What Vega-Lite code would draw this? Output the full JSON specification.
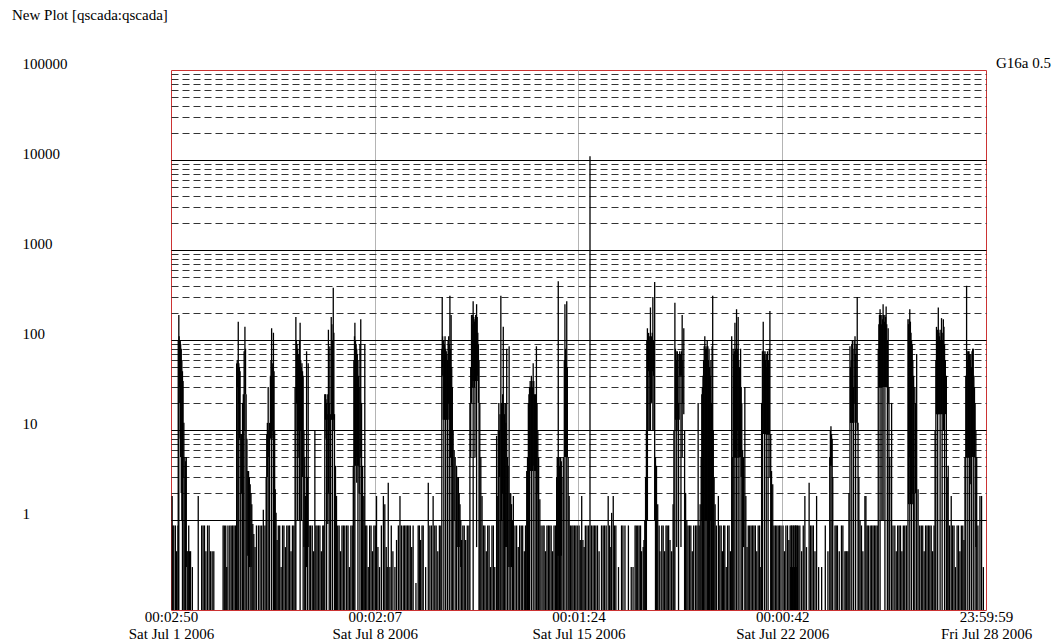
{
"$schema": "https://vega.github.io/schema/vega-lite/v6.json",
"width": 815,
"height": 540,
"autosize": "none",
"padding": {"left": 171, "top": 70, "right": 69, "bottom": 31},
"background": "white",
"title": {"text": "New Plot [qscada:qscada]", "anchor": "start", "frame": "group", "dx": -159, "offset": 33, "font": "Liberation Serif", "fontSize": 15, "fontWeight": "normal", "color": "#000000"},
"config": {"view": {"stroke": "#cc3333", "strokeWidth": 1}, "font": "Liberation Serif"},
"datasets": {
"lab": [{"t": "2006-07-28T23:59:59Z", "hi": 100000, "label": "G16a 0.5"}],
"s": [
{"t":"2006-07-01T01:00Z","hi":1.85},{"t":"2006-07-01T01:30Z","hi":0.87},{"t":"2006-07-01T02:20Z","hi":0.87},{"t":"2006-07-01T03:40Z","hi":0.87},{"t":"2006-07-01T04:40Z","hi":0.45},{"t":"2006-07-01T05:50Z","hi":0.87},
{"t":"2006-07-01T06:00Z","hi":100},{"t":"2006-07-01T06:30Z","hi":190},{"t":"2006-07-01T06:45Z","lo":40,"hi":110},{"t":"2006-07-01T07:00Z","lo":30,"hi":100},{"t":"2006-07-01T07:20Z","lo":20,"hi":95},{"t":"2006-07-01T07:40Z","lo":8,"hi":100},{"t":"2006-07-01T08:00Z","lo":5,"hi":90},{"t":"2006-07-01T08:30Z","lo":2,"hi":80},{"t":"2006-07-01T09:00Z","lo":1,"hi":60},{"t":"2006-07-01T09:30Z","hi":45},{"t":"2006-07-01T10:00Z","lo":3,"hi":35},{"t":"2006-07-01T10:40Z","hi":12},{"t":"2006-07-01T11:30Z","hi":5},{"t":"2006-07-01T12:00Z","hi":4.5},{"t":"2006-07-01T12:40Z","lo":0.3,"hi":5},
{"t":"2006-07-01T13:20Z","hi":0.45},{"t":"2006-07-01T14:00Z","hi":0.45},{"t":"2006-07-01T14:40Z","hi":0.87},{"t":"2006-07-01T15:20Z","hi":0.45},{"t":"2006-07-01T16:10Z","hi":0.45},{"t":"2006-07-01T17:40Z","hi":0.3},{"t":"2006-07-01T22:30Z","hi":1.85},
{"t":"2006-07-02T01:20Z","hi":0.87},{"t":"2006-07-02T02:30Z","hi":0.87},{"t":"2006-07-02T03:40Z","hi":0.87},{"t":"2006-07-02T04:50Z","hi":0.45},{"t":"2006-07-02T06:10Z","hi":0.87},{"t":"2006-07-02T07:30Z","hi":0.87},{"t":"2006-07-02T08:40Z","hi":0.45},{"t":"2006-07-02T10:00Z","hi":0.45},{"t":"2006-07-02T11:20Z","hi":0.45},{"t":"2006-07-02T19:00Z","hi":0.87},{"t":"2006-07-02T20:00Z","hi":0.87},{"t":"2006-07-02T21:10Z","hi":0.87},{"t":"2006-07-02T22:00Z","hi":0.3},{"t":"2006-07-02T23:00Z","hi":0.87},
{"t":"2006-07-03T00:30Z","hi":0.87},{"t":"2006-07-03T01:40Z","hi":0.87},{"t":"2006-07-03T02:50Z","hi":0.87},{"t":"2006-07-03T04:00Z","hi":0.87},{"t":"2006-07-03T05:10Z","hi":0.87},
{"t":"2006-07-03T06:10Z","hi":55},{"t":"2006-07-03T06:40Z","lo":30,"hi":60},{"t":"2006-07-03T07:10Z","hi":50},{"t":"2006-07-03T07:30Z","hi":160},{"t":"2006-07-03T08:00Z","lo":20,"hi":55},{"t":"2006-07-03T08:30Z","lo":8,"hi":50},{"t":"2006-07-03T09:00Z","hi":45},{"t":"2006-07-03T09:40Z","hi":9},{"t":"2006-07-03T10:20Z","lo":2,"hi":9},{"t":"2006-07-03T11:00Z","hi":20},{"t":"2006-07-03T11:40Z","hi":25},{"t":"2006-07-03T12:20Z","lo":10,"hi":75},{"t":"2006-07-03T13:00Z","hi":140},{"t":"2006-07-03T13:30Z","lo":25,"hi":80},{"t":"2006-07-03T14:00Z","hi":25},{"t":"2006-07-03T14:40Z","hi":8},{"t":"2006-07-03T15:20Z","lo":0.4,"hi":3.5},{"t":"2006-07-03T16:00Z","hi":3.5},{"t":"2006-07-03T16:40Z","lo":0.3,"hi":3},{"t":"2006-07-03T17:20Z","hi":2.5},{"t":"2006-07-03T18:00Z","lo":0.3,"hi":2},{"t":"2006-07-03T18:40Z","hi":1.5},{"t":"2006-07-03T19:30Z","hi":0.9},{"t":"2006-07-03T20:20Z","hi":0.7},{"t":"2006-07-03T21:20Z","hi":0.5},{"t":"2006-07-03T22:30Z","hi":0.87},
{"t":"2006-07-04T00:10Z","hi":0.87},{"t":"2006-07-04T01:30Z","hi":0.87},{"t":"2006-07-04T02:50Z","hi":0.87},{"t":"2006-07-04T04:10Z","hi":1.3},{"t":"2006-07-04T05:30Z","hi":0.87},{"t":"2006-07-04T06:30Z","hi":3},{"t":"2006-07-04T07:00Z","hi":9},{"t":"2006-07-04T07:30Z","lo":3,"hi":12},{"t":"2006-07-04T08:10Z","hi":30},{"t":"2006-07-04T08:40Z","lo":5,"hi":10},{"t":"2006-07-04T09:20Z","hi":12},{"t":"2006-07-04T10:00Z","lo":8,"hi":40},{"t":"2006-07-04T10:30Z","lo":10,"hi":60},{"t":"2006-07-04T11:00Z","hi":135},{"t":"2006-07-04T11:30Z","lo":10,"hi":55},{"t":"2006-07-04T12:00Z","lo":8,"hi":50},{"t":"2006-07-04T12:30Z","hi":120},{"t":"2006-07-04T13:00Z","lo":5,"hi":45},{"t":"2006-07-04T13:30Z","hi":10},{"t":"2006-07-04T14:00Z","hi":2.2},{"t":"2006-07-04T14:40Z","hi":1.2},{"t":"2006-07-04T15:30Z","hi":0.6},{"t":"2006-07-04T16:30Z","hi":0.87},{"t":"2006-07-04T17:40Z","hi":0.87},{"t":"2006-07-04T18:50Z","hi":0.3},{"t":"2006-07-04T20:00Z","hi":0.87},{"t":"2006-07-04T21:10Z","hi":0.87},{"t":"2006-07-04T22:20Z","hi":0.5},{"t":"2006-07-04T23:30Z","hi":0.87},
{"t":"2006-07-05T00:40Z","hi":0.87},{"t":"2006-07-05T01:50Z","hi":0.87},{"t":"2006-07-05T03:00Z","hi":0.45},{"t":"2006-07-05T04:10Z","hi":0.87},{"t":"2006-07-05T05:20Z","hi":0.87},{"t":"2006-07-05T06:20Z","hi":30},{"t":"2006-07-05T07:00Z","hi":180},{"t":"2006-07-05T07:30Z","lo":20,"hi":100},{"t":"2006-07-05T08:00Z","lo":10,"hi":90},{"t":"2006-07-05T08:30Z","lo":1,"hi":80},{"t":"2006-07-05T09:00Z","lo":10,"hi":70},{"t":"2006-07-05T09:30Z","lo":5,"hi":60},{"t":"2006-07-05T10:00Z","lo":1,"hi":100},{"t":"2006-07-05T10:30Z","hi":155},{"t":"2006-07-05T11:00Z","lo":10,"hi":60},{"t":"2006-07-05T11:30Z","lo":1,"hi":50},{"t":"2006-07-05T12:00Z","lo":10,"hi":55},{"t":"2006-07-05T12:30Z","lo":3,"hi":45},{"t":"2006-07-05T13:00Z","hi":40},{"t":"2006-07-05T13:40Z","lo":0.5,"hi":10},{"t":"2006-07-05T14:20Z","hi":5},{"t":"2006-07-05T15:00Z","hi":1.85},{"t":"2006-07-05T15:50Z","lo":0.3,"hi":75},{"t":"2006-07-05T16:30Z","hi":3},{"t":"2006-07-05T17:10Z","lo":0.5,"hi":55},{"t":"2006-07-05T18:00Z","hi":0.87},{"t":"2006-07-05T19:10Z","hi":0.87},{"t":"2006-07-05T20:30Z","hi":0.87},{"t":"2006-07-05T21:40Z","hi":0.45},{"t":"2006-07-05T22:40Z","hi":10},{"t":"2006-07-05T23:30Z","hi":0.87},
{"t":"2006-07-06T00:30Z","hi":0.87},{"t":"2006-07-06T01:40Z","hi":0.87},{"t":"2006-07-06T02:50Z","hi":0.87},{"t":"2006-07-06T04:00Z","hi":0.45},{"t":"2006-07-06T05:10Z","hi":0.87},{"t":"2006-07-06T06:00Z","hi":0.87},{"t":"2006-07-06T06:50Z","hi":25},{"t":"2006-07-06T07:20Z","lo":13,"hi":25},{"t":"2006-07-06T07:50Z","lo":8,"hi":22},{"t":"2006-07-06T08:20Z","hi":20},{"t":"2006-07-06T08:50Z","lo":13,"hi":25},{"t":"2006-07-06T09:20Z","lo":0.9,"hi":15},{"t":"2006-07-06T09:50Z","lo":2,"hi":130},{"t":"2006-07-06T10:30Z","hi":20},{"t":"2006-07-06T11:00Z","lo":10,"hi":85},{"t":"2006-07-06T11:40Z","hi":15},{"t":"2006-07-06T12:10Z","lo":13,"hi":180},{"t":"2006-07-06T12:40Z","lo":13,"hi":150},{"t":"2006-07-06T13:10Z","hi":100},{"t":"2006-07-06T13:50Z","lo":13,"hi":380},{"t":"2006-07-06T14:20Z","lo":10,"hi":120},{"t":"2006-07-06T14:50Z","hi":15},{"t":"2006-07-06T15:40Z","hi":4},{"t":"2006-07-06T16:30Z","hi":1.85},{"t":"2006-07-06T17:30Z","hi":0.87},{"t":"2006-07-06T18:40Z","hi":0.87},{"t":"2006-07-06T19:50Z","hi":0.45},{"t":"2006-07-06T21:00Z","hi":0.87},{"t":"2006-07-06T22:10Z","hi":0.87},{"t":"2006-07-06T23:20Z","hi":0.87},
{"t":"2006-07-07T00:50Z","hi":0.87},{"t":"2006-07-07T02:00Z","hi":0.87},{"t":"2006-07-07T03:10Z","hi":0.3},{"t":"2006-07-07T04:20Z","hi":0.87},{"t":"2006-07-07T05:30Z","hi":0.87},{"t":"2006-07-07T06:20Z","hi":4},{"t":"2006-07-07T06:50Z","hi":60},{"t":"2006-07-07T07:20Z","lo":4,"hi":110},{"t":"2006-07-07T07:40Z","hi":155},{"t":"2006-07-07T08:10Z","lo":4,"hi":100},{"t":"2006-07-07T08:40Z","lo":5,"hi":90},{"t":"2006-07-07T09:10Z","lo":2.6,"hi":80},{"t":"2006-07-07T09:40Z","lo":4,"hi":70},{"t":"2006-07-07T10:10Z","hi":60},{"t":"2006-07-07T10:40Z","lo":4,"hi":40},{"t":"2006-07-07T11:10Z","lo":2,"hi":30},{"t":"2006-07-07T11:50Z","hi":90},{"t":"2006-07-07T12:30Z","lo":5,"hi":170},{"t":"2006-07-07T13:10Z","hi":20},{"t":"2006-07-07T14:00Z","hi":4},{"t":"2006-07-07T15:00Z","hi":1.85},{"t":"2006-07-07T15:50Z","hi":90},{"t":"2006-07-07T16:30Z","hi":0.87},{"t":"2006-07-07T17:30Z","hi":0.87},{"t":"2006-07-07T18:40Z","hi":0.3},{"t":"2006-07-07T19:50Z","hi":0.87},{"t":"2006-07-07T21:00Z","hi":0.87},{"t":"2006-07-07T22:10Z","hi":0.45},{"t":"2006-07-07T23:20Z","hi":0.87},
{"t":"2006-07-08T00:30Z","hi":0.87},{"t":"2006-07-08T01:30Z","hi":1.85},{"t":"2006-07-08T02:40Z","hi":0.5},{"t":"2006-07-08T04:00Z","hi":0.3},{"t":"2006-07-08T05:30Z","hi":0.87},{"t":"2006-07-08T07:10Z","hi":1.85},{"t":"2006-07-08T08:20Z","hi":1.5},{"t":"2006-07-08T09:30Z","hi":0.5},{"t":"2006-07-08T10:20Z","hi":0.3},{"t":"2006-07-08T11:10Z","hi":2.6},{"t":"2006-07-08T12:30Z","hi":0.3},{"t":"2006-07-08T13:40Z","hi":0.87},{"t":"2006-07-08T15:00Z","hi":0.45},{"t":"2006-07-08T16:40Z","hi":0.3},{"t":"2006-07-08T18:00Z","hi":0.6},{"t":"2006-07-08T19:30Z","hi":0.87},{"t":"2006-07-08T20:50Z","hi":1.85},{"t":"2006-07-08T22:00Z","hi":0.87},{"t":"2006-07-08T23:30Z","hi":0.87},
{"t":"2006-07-09T00:40Z","hi":0.87},{"t":"2006-07-09T01:50Z","hi":0.87},{"t":"2006-07-09T03:00Z","hi":0.87},{"t":"2006-07-09T04:10Z","hi":0.87},{"t":"2006-07-09T05:20Z","hi":0.87},{"t":"2006-07-09T06:30Z","hi":0.5},{"t":"2006-07-09T07:40Z","hi":0.87},{"t":"2006-07-09T10:00Z","hi":0.2},{"t":"2006-07-09T11:50Z","hi":0.87},{"t":"2006-07-09T12:50Z","hi":0.87},{"t":"2006-07-09T13:50Z","hi":0.6},{"t":"2006-07-09T15:00Z","hi":0.87},{"t":"2006-07-09T16:00Z","hi":0.87},{"t":"2006-07-09T18:00Z","hi":0.3},{"t":"2006-07-09T20:10Z","hi":2.6},{"t":"2006-07-09T21:30Z","hi":0.87},{"t":"2006-07-09T22:50Z","hi":0.87},
{"t":"2006-07-10T00:10Z","hi":1.85},{"t":"2006-07-10T01:30Z","hi":0.87},{"t":"2006-07-10T02:40Z","hi":0.87},{"t":"2006-07-10T04:00Z","hi":0.45},{"t":"2006-07-10T05:20Z","hi":0.87},{"t":"2006-07-10T06:30Z","hi":0.87},{"t":"2006-07-10T07:20Z","hi":80},{"t":"2006-07-10T07:40Z","lo":40,"hi":300},{"t":"2006-07-10T08:00Z","lo":50,"hi":110},{"t":"2006-07-10T08:30Z","lo":13,"hi":100},{"t":"2006-07-10T09:00Z","hi":100},{"t":"2006-07-10T09:30Z","lo":13,"hi":90},{"t":"2006-07-10T10:00Z","lo":13,"hi":110},{"t":"2006-07-10T10:30Z","hi":80},{"t":"2006-07-10T11:00Z","lo":13,"hi":75},{"t":"2006-07-10T11:30Z","lo":13,"hi":70},{"t":"2006-07-10T12:00Z","hi":60},{"t":"2006-07-10T12:30Z","lo":13,"hi":100},{"t":"2006-07-10T13:00Z","lo":20,"hi":110},{"t":"2006-07-10T13:30Z","hi":90},{"t":"2006-07-10T14:00Z","lo":13,"hi":310},{"t":"2006-07-10T14:30Z","lo":5,"hi":80},{"t":"2006-07-10T15:00Z","hi":190},{"t":"2006-07-10T15:30Z","lo":4,"hi":50},{"t":"2006-07-10T16:00Z","hi":30},{"t":"2006-07-10T16:40Z","hi":10},{"t":"2006-07-10T17:30Z","lo":1,"hi":6},{"t":"2006-07-10T18:20Z","hi":5},{"t":"2006-07-10T19:30Z","hi":4},{"t":"2006-07-10T20:30Z","lo":0.5,"hi":3},{"t":"2006-07-10T21:00Z","hi":3},{"t":"2006-07-10T21:40Z","lo":0.5,"hi":2},{"t":"2006-07-10T22:20Z","hi":1.5},{"t":"2006-07-10T23:00Z","lo":0.3,"hi":1},{"t":"2006-07-10T23:40Z","hi":0.6},
{"t":"2006-07-11T00:40Z","hi":0.87},{"t":"2006-07-11T01:50Z","hi":0.87},{"t":"2006-07-11T03:00Z","hi":0.6},{"t":"2006-07-11T04:20Z","hi":0.87},{"t":"2006-07-11T05:40Z","hi":0.87},{"t":"2006-07-11T06:30Z","hi":20},{"t":"2006-07-11T07:10Z","lo":5,"hi":50},{"t":"2006-07-11T07:50Z","lo":20,"hi":190},{"t":"2006-07-11T08:20Z","lo":35,"hi":150},{"t":"2006-07-11T08:50Z","lo":30,"hi":190},{"t":"2006-07-11T09:10Z","hi":270},{"t":"2006-07-11T09:40Z","lo":35,"hi":180},{"t":"2006-07-11T10:10Z","lo":30,"hi":160},{"t":"2006-07-11T10:40Z","lo":5,"hi":170},{"t":"2006-07-11T11:10Z","lo":35,"hi":190},{"t":"2006-07-11T11:40Z","lo":35,"hi":150},{"t":"2006-07-11T12:00Z","lo":0.5,"hi":250},{"t":"2006-07-11T12:30Z","lo":40,"hi":180},{"t":"2006-07-11T13:00Z","lo":35,"hi":120},{"t":"2006-07-11T13:30Z","lo":20,"hi":90},{"t":"2006-07-11T14:00Z","hi":60},{"t":"2006-07-11T14:40Z","hi":20},{"t":"2006-07-11T15:30Z","hi":5},{"t":"2006-07-11T16:30Z","hi":1.85},{"t":"2006-07-11T17:40Z","hi":0.87},{"t":"2006-07-11T18:50Z","hi":0.87},{"t":"2006-07-11T20:00Z","hi":0.45},{"t":"2006-07-11T21:10Z","hi":0.87},{"t":"2006-07-11T22:20Z","hi":0.87},{"t":"2006-07-11T23:30Z","hi":0.3},
{"t":"2006-07-12T00:40Z","hi":0.87},{"t":"2006-07-12T01:50Z","hi":0.87},{"t":"2006-07-12T03:00Z","hi":0.3},{"t":"2006-07-12T04:30Z","hi":8.6},{"t":"2006-07-12T05:00Z","hi":1.85},{"t":"2006-07-12T05:50Z","hi":10},{"t":"2006-07-12T06:20Z","hi":20},{"t":"2006-07-12T06:50Z","lo":3,"hi":10},{"t":"2006-07-12T07:20Z","hi":15},{"t":"2006-07-12T08:00Z","hi":310},{"t":"2006-07-12T08:30Z","lo":1,"hi":20},{"t":"2006-07-12T09:00Z","hi":18},{"t":"2006-07-12T09:30Z","lo":2,"hi":25},{"t":"2006-07-12T10:00Z","hi":140},{"t":"2006-07-12T10:30Z","lo":1,"hi":20},{"t":"2006-07-12T11:00Z","hi":15},{"t":"2006-07-12T11:40Z","lo":0.5,"hi":20},{"t":"2006-07-12T12:10Z","hi":12},{"t":"2006-07-12T12:50Z","lo":0.5,"hi":80},{"t":"2006-07-12T13:30Z","hi":5},{"t":"2006-07-12T14:00Z","lo":0.3,"hi":4},{"t":"2006-07-12T14:50Z","hi":85},{"t":"2006-07-12T15:30Z","lo":0.3,"hi":2},{"t":"2006-07-12T16:10Z","hi":2},{"t":"2006-07-12T16:50Z","lo":0.3,"hi":1.5},{"t":"2006-07-12T17:30Z","hi":1},{"t":"2006-07-12T18:20Z","hi":1.85},{"t":"2006-07-12T19:40Z","hi":0.87},{"t":"2006-07-12T21:00Z","hi":0.87},{"t":"2006-07-12T22:20Z","hi":0.5},{"t":"2006-07-12T23:30Z","hi":0.87},
{"t":"2006-07-13T00:50Z","hi":0.87},{"t":"2006-07-13T02:00Z","hi":0.87},{"t":"2006-07-13T03:20Z","hi":0.45},{"t":"2006-07-13T04:20Z","hi":0.87},{"t":"2006-07-13T05:20Z","hi":3.5},{"t":"2006-07-13T06:00Z","hi":5},{"t":"2006-07-13T06:40Z","hi":20},{"t":"2006-07-13T07:10Z","lo":3.5,"hi":25},{"t":"2006-07-13T07:40Z","hi":30},{"t":"2006-07-13T08:10Z","lo":3.5,"hi":35},{"t":"2006-07-13T08:40Z","lo":3.5,"hi":30},{"t":"2006-07-13T09:10Z","hi":40},{"t":"2006-07-13T09:40Z","lo":5,"hi":35},{"t":"2006-07-13T10:10Z","lo":3.5,"hi":30},{"t":"2006-07-13T10:40Z","hi":55},{"t":"2006-07-13T11:10Z","lo":4,"hi":35},{"t":"2006-07-13T11:40Z","lo":3.5,"hi":25},{"t":"2006-07-13T12:10Z","hi":20},{"t":"2006-07-13T12:40Z","lo":3.5,"hi":25},{"t":"2006-07-13T13:20Z","hi":85},{"t":"2006-07-13T13:50Z","lo":2,"hi":20},{"t":"2006-07-13T14:30Z","hi":10},{"t":"2006-07-13T15:10Z","hi":5},{"t":"2006-07-13T16:10Z","hi":1.7},{"t":"2006-07-13T17:10Z","hi":0.87},{"t":"2006-07-13T18:40Z","hi":0.87},{"t":"2006-07-13T19:40Z","hi":0.87},{"t":"2006-07-13T20:50Z","hi":0.45},{"t":"2006-07-13T22:00Z","hi":0.87},{"t":"2006-07-13T23:10Z","hi":0.87},
{"t":"2006-07-14T00:20Z","hi":0.87},{"t":"2006-07-14T01:30Z","hi":0.87},{"t":"2006-07-14T02:40Z","hi":0.45},{"t":"2006-07-14T03:50Z","hi":0.87},{"t":"2006-07-14T05:00Z","hi":0.87},{"t":"2006-07-14T06:00Z","hi":3},{"t":"2006-07-14T06:30Z","hi":5},{"t":"2006-07-14T07:00Z","lo":0.4,"hi":5},{"t":"2006-07-14T07:20Z","hi":450},{"t":"2006-07-14T07:50Z","lo":0.4,"hi":5},{"t":"2006-07-14T08:20Z","hi":4},{"t":"2006-07-14T08:50Z","lo":0.4,"hi":5},{"t":"2006-07-14T09:20Z","hi":5},{"t":"2006-07-14T09:50Z","lo":0.4,"hi":4.5},{"t":"2006-07-14T10:20Z","hi":3},{"t":"2006-07-14T11:30Z","hi":5},{"t":"2006-07-14T12:20Z","lo":5,"hi":60},{"t":"2006-07-14T12:50Z","hi":250},{"t":"2006-07-14T13:20Z","lo":5,"hi":80},{"t":"2006-07-14T13:50Z","lo":5,"hi":60},{"t":"2006-07-14T14:20Z","hi":270},{"t":"2006-07-14T14:50Z","lo":5,"hi":50},{"t":"2006-07-14T15:30Z","hi":5},{"t":"2006-07-14T16:20Z","hi":1.85},{"t":"2006-07-14T17:20Z","hi":0.87},{"t":"2006-07-14T18:30Z","hi":0.87},{"t":"2006-07-14T19:30Z","hi":0.87},{"t":"2006-07-14T20:40Z","hi":0.87},{"t":"2006-07-14T21:50Z","hi":0.87},{"t":"2006-07-14T23:00Z","hi":0.87},
{"t":"2006-07-15T00:30Z","hi":0.87},{"t":"2006-07-15T01:30Z","hi":0.6},{"t":"2006-07-15T02:40Z","hi":1.85},{"t":"2006-07-15T03:40Z","hi":0.6},{"t":"2006-07-15T04:40Z","hi":0.5},{"t":"2006-07-15T05:40Z","hi":0.87},{"t":"2006-07-15T07:00Z","hi":0.87},{"t":"2006-07-15T08:20Z","hi":0.87},{"t":"2006-07-15T09:30Z","hi":11000},{"t":"2006-07-15T10:40Z","hi":0.87},{"t":"2006-07-15T12:00Z","hi":0.87},{"t":"2006-07-15T13:10Z","hi":0.87},{"t":"2006-07-15T14:20Z","hi":0.87},{"t":"2006-07-15T15:40Z","hi":0.87},{"t":"2006-07-15T17:00Z","hi":0.45},{"t":"2006-07-15T19:00Z","hi":0.87},{"t":"2006-07-15T20:20Z","hi":0.87},{"t":"2006-07-15T21:30Z","hi":0.87},{"t":"2006-07-15T22:50Z","hi":0.87},
{"t":"2006-07-16T00:30Z","hi":1.85},{"t":"2006-07-16T01:40Z","hi":0.87},{"t":"2006-07-16T02:40Z","hi":0.5},{"t":"2006-07-16T03:20Z","hi":1.2},{"t":"2006-07-16T04:40Z","hi":1.85},{"t":"2006-07-16T05:40Z","hi":0.87},{"t":"2006-07-16T06:50Z","hi":0.87},{"t":"2006-07-16T09:00Z","hi":0.3},{"t":"2006-07-16T11:30Z","hi":0.87},{"t":"2006-07-16T12:40Z","hi":0.87},{"t":"2006-07-16T14:20Z","hi":0.87},{"t":"2006-07-16T17:10Z","hi":0.87},{"t":"2006-07-16T19:30Z","hi":0.3},{"t":"2006-07-16T21:00Z","hi":0.3},{"t":"2006-07-16T22:40Z","hi":0.87},{"t":"2006-07-16T23:40Z","hi":0.87},
{"t":"2006-07-17T00:50Z","hi":0.87},{"t":"2006-07-17T02:00Z","hi":0.87},{"t":"2006-07-17T03:10Z","hi":0.87},{"t":"2006-07-17T04:00Z","hi":0.45},{"t":"2006-07-17T05:20Z","hi":0.5},{"t":"2006-07-17T06:00Z","hi":0.6},{"t":"2006-07-17T06:40Z","hi":1},{"t":"2006-07-17T07:20Z","hi":3},{"t":"2006-07-17T08:00Z","hi":10},{"t":"2006-07-17T08:20Z","lo":10,"hi":100},{"t":"2006-07-17T08:50Z","lo":1,"hi":135},{"t":"2006-07-17T09:20Z","lo":10,"hi":100},{"t":"2006-07-17T09:50Z","lo":45,"hi":120},{"t":"2006-07-17T10:20Z","lo":10,"hi":110},{"t":"2006-07-17T10:50Z","lo":40,"hi":100},{"t":"2006-07-17T11:20Z","lo":10,"hi":230},{"t":"2006-07-17T11:50Z","lo":45,"hi":100},{"t":"2006-07-17T12:20Z","lo":20,"hi":110},{"t":"2006-07-17T12:50Z","lo":45,"hi":120},{"t":"2006-07-17T13:20Z","lo":10,"hi":300},{"t":"2006-07-17T13:50Z","lo":40,"hi":100},{"t":"2006-07-17T14:20Z","lo":10,"hi":90},{"t":"2006-07-17T14:50Z","lo":1,"hi":440},{"t":"2006-07-17T15:30Z","hi":5},{"t":"2006-07-17T16:20Z","hi":4},{"t":"2006-07-17T17:20Z","hi":1.5},{"t":"2006-07-17T18:30Z","hi":0.87},{"t":"2006-07-17T19:10Z","hi":0.45},{"t":"2006-07-17T20:40Z","hi":0.87},{"t":"2006-07-17T21:50Z","hi":0.87},{"t":"2006-07-17T23:00Z","hi":0.45},
{"t":"2006-07-18T00:10Z","hi":0.87},{"t":"2006-07-18T01:10Z","hi":0.87},{"t":"2006-07-18T02:20Z","hi":0.87},{"t":"2006-07-18T03:30Z","hi":0.6},{"t":"2006-07-18T04:50Z","hi":0.45},{"t":"2006-07-18T06:00Z","hi":1.5},{"t":"2006-07-18T06:40Z","hi":10},{"t":"2006-07-18T07:30Z","hi":260},{"t":"2006-07-18T08:00Z","lo":13,"hi":80},{"t":"2006-07-18T08:30Z","lo":10,"hi":75},{"t":"2006-07-18T09:00Z","lo":0.5,"hi":60},{"t":"2006-07-18T09:30Z","lo":13,"hi":75},{"t":"2006-07-18T10:00Z","lo":10,"hi":70},{"t":"2006-07-18T10:30Z","hi":20},{"t":"2006-07-18T11:00Z","lo":13,"hi":70},{"t":"2006-07-18T11:30Z","lo":40,"hi":75},{"t":"2006-07-18T12:00Z","lo":40,"hi":70},{"t":"2006-07-18T12:30Z","lo":0.5,"hi":60},{"t":"2006-07-18T13:00Z","lo":40,"hi":75},{"t":"2006-07-18T13:30Z","lo":5,"hi":190},{"t":"2006-07-18T14:00Z","lo":20,"hi":60},{"t":"2006-07-18T14:50Z","lo":15,"hi":135},{"t":"2006-07-18T15:30Z","hi":10},{"t":"2006-07-18T16:20Z","hi":2},{"t":"2006-07-18T17:20Z","hi":1},{"t":"2006-07-18T18:20Z","hi":0.87},{"t":"2006-07-18T19:30Z","hi":0.87},{"t":"2006-07-18T20:40Z","hi":0.87},{"t":"2006-07-18T21:50Z","hi":0.45},{"t":"2006-07-18T23:00Z","hi":0.87},
{"t":"2006-07-19T00:30Z","hi":0.87},{"t":"2006-07-19T01:40Z","hi":0.87},{"t":"2006-07-19T02:40Z","hi":20},{"t":"2006-07-19T03:30Z","hi":0.87},{"t":"2006-07-19T04:20Z","hi":1.5},{"t":"2006-07-19T05:10Z","hi":5},{"t":"2006-07-19T05:40Z","lo":1,"hi":25},{"t":"2006-07-19T06:10Z","hi":30},{"t":"2006-07-19T06:40Z","lo":1,"hi":40},{"t":"2006-07-19T07:10Z","hi":60},{"t":"2006-07-19T07:40Z","lo":1,"hi":85},{"t":"2006-07-19T08:10Z","hi":110},{"t":"2006-07-19T08:40Z","lo":1,"hi":80},{"t":"2006-07-19T09:10Z","hi":85},{"t":"2006-07-19T09:40Z","lo":1,"hi":80},{"t":"2006-07-19T10:10Z","hi":100},{"t":"2006-07-19T10:40Z","hi":85},{"t":"2006-07-19T11:10Z","hi":60},{"t":"2006-07-19T11:40Z","lo":0.5,"hi":80},{"t":"2006-07-19T12:10Z","hi":50},{"t":"2006-07-19T12:40Z","lo":1,"hi":40},{"t":"2006-07-19T13:10Z","hi":60},{"t":"2006-07-19T13:40Z","hi":20},{"t":"2006-07-19T14:10Z","lo":1,"hi":85},{"t":"2006-07-19T14:40Z","hi":310},{"t":"2006-07-19T15:10Z","hi":10},{"t":"2006-07-19T15:50Z","hi":3},{"t":"2006-07-19T16:40Z","hi":1.5},{"t":"2006-07-19T17:40Z","hi":0.87},{"t":"2006-07-19T19:20Z","hi":1.85},{"t":"2006-07-19T20:30Z","hi":0.87},{"t":"2006-07-19T21:40Z","hi":0.87},{"t":"2006-07-19T22:40Z","hi":0.45},{"t":"2006-07-19T23:40Z","hi":0.87},
{"t":"2006-07-20T00:40Z","hi":0.87},{"t":"2006-07-20T01:50Z","hi":0.3},{"t":"2006-07-20T03:00Z","hi":0.87},{"t":"2006-07-20T04:10Z","hi":0.87},{"t":"2006-07-20T05:20Z","hi":0.45},{"t":"2006-07-20T06:20Z","hi":110},{"t":"2006-07-20T06:50Z","hi":5},{"t":"2006-07-20T07:30Z","lo":5,"hi":80},{"t":"2006-07-20T08:00Z","hi":70},{"t":"2006-07-20T08:30Z","lo":5,"hi":75},{"t":"2006-07-20T09:00Z","hi":155},{"t":"2006-07-20T09:30Z","lo":5,"hi":80},{"t":"2006-07-20T10:00Z","lo":10,"hi":70},{"t":"2006-07-20T10:20Z","hi":220},{"t":"2006-07-20T10:50Z","lo":5,"hi":75},{"t":"2006-07-20T11:20Z","lo":10,"hi":80},{"t":"2006-07-20T11:40Z","hi":180},{"t":"2006-07-20T12:10Z","lo":5,"hi":60},{"t":"2006-07-20T12:40Z","lo":5,"hi":50},{"t":"2006-07-20T13:10Z","hi":40},{"t":"2006-07-20T13:40Z","lo":5,"hi":80},{"t":"2006-07-20T14:10Z","lo":3,"hi":30},{"t":"2006-07-20T14:40Z","hi":20},{"t":"2006-07-20T15:20Z","hi":6},{"t":"2006-07-20T16:10Z","lo":0.5,"hi":5},{"t":"2006-07-20T17:10Z","hi":30},{"t":"2006-07-20T18:00Z","hi":1.85},{"t":"2006-07-20T19:00Z","hi":0.5},{"t":"2006-07-20T20:00Z","hi":0.87},{"t":"2006-07-20T21:10Z","hi":0.87},{"t":"2006-07-20T22:20Z","hi":0.87},{"t":"2006-07-20T23:30Z","hi":0.87},
{"t":"2006-07-21T00:40Z","hi":0.87},{"t":"2006-07-21T01:50Z","hi":0.87},{"t":"2006-07-21T03:00Z","hi":0.45},{"t":"2006-07-21T04:10Z","hi":0.87},{"t":"2006-07-21T05:20Z","hi":0.87},{"t":"2006-07-21T06:20Z","hi":0.3},{"t":"2006-07-21T07:00Z","hi":20},{"t":"2006-07-21T07:40Z","hi":75},{"t":"2006-07-21T08:20Z","lo":9,"hi":160},{"t":"2006-07-21T08:50Z","lo":9,"hi":75},{"t":"2006-07-21T09:20Z","hi":70},{"t":"2006-07-21T09:50Z","lo":9,"hi":75},{"t":"2006-07-21T10:20Z","lo":9,"hi":60},{"t":"2006-07-21T10:50Z","hi":70},{"t":"2006-07-21T11:20Z","lo":9,"hi":50},{"t":"2006-07-21T11:50Z","lo":9,"hi":75},{"t":"2006-07-21T12:20Z","hi":55},{"t":"2006-07-21T12:50Z","lo":9,"hi":60},{"t":"2006-07-21T13:20Z","lo":9,"hi":80},{"t":"2006-07-21T13:50Z","lo":3,"hi":210},{"t":"2006-07-21T14:30Z","hi":9},{"t":"2006-07-21T15:10Z","hi":3.5},{"t":"2006-07-21T16:10Z","hi":2.5},{"t":"2006-07-21T17:10Z","hi":0.87},{"t":"2006-07-21T18:20Z","hi":0.87},{"t":"2006-07-21T19:30Z","hi":0.87},{"t":"2006-07-21T20:40Z","hi":0.87},{"t":"2006-07-21T21:50Z","hi":0.87},{"t":"2006-07-21T23:00Z","hi":0.87},
{"t":"2006-07-22T00:40Z","hi":0.87},{"t":"2006-07-22T01:50Z","hi":0.45},{"t":"2006-07-22T03:00Z","hi":0.87},{"t":"2006-07-22T04:20Z","hi":0.87},{"t":"2006-07-22T05:30Z","hi":0.6},{"t":"2006-07-22T06:30Z","hi":0.87},{"t":"2006-07-22T07:00Z","hi":0.3},{"t":"2006-07-22T07:30Z","hi":0.87},{"t":"2006-07-22T08:00Z","hi":0.87},{"t":"2006-07-22T08:30Z","hi":0.3},{"t":"2006-07-22T09:00Z","hi":0.87},{"t":"2006-07-22T09:30Z","hi":0.87},{"t":"2006-07-22T10:00Z","hi":0.3},{"t":"2006-07-22T10:30Z","hi":0.87},{"t":"2006-07-22T11:00Z","hi":0.87},{"t":"2006-07-22T11:30Z","hi":0.87},{"t":"2006-07-22T12:00Z","hi":0.3},{"t":"2006-07-22T12:30Z","hi":0.87},{"t":"2006-07-22T13:10Z","hi":0.87},{"t":"2006-07-22T14:30Z","hi":0.87},{"t":"2006-07-22T16:00Z","hi":0.45},{"t":"2006-07-22T17:20Z","hi":0.87},{"t":"2006-07-22T18:40Z","hi":1.85},{"t":"2006-07-22T20:00Z","hi":0.5},{"t":"2006-07-22T22:10Z","hi":2.6},{"t":"2006-07-22T23:20Z","hi":0.87},
{"t":"2006-07-23T00:30Z","hi":0.87},{"t":"2006-07-23T01:40Z","hi":0.87},{"t":"2006-07-23T03:00Z","hi":0.45},{"t":"2006-07-23T04:20Z","hi":1.85},{"t":"2006-07-23T06:00Z","hi":0.3},{"t":"2006-07-23T08:30Z","hi":0.3},{"t":"2006-07-23T11:30Z","hi":0.87},{"t":"2006-07-23T13:40Z","hi":0.45},{"t":"2006-07-23T15:10Z","hi":5},{"t":"2006-07-23T15:40Z","lo":4,"hi":10},{"t":"2006-07-23T16:10Z","hi":11},{"t":"2006-07-23T16:40Z","lo":4,"hi":9},{"t":"2006-07-23T17:10Z","hi":8},{"t":"2006-07-23T17:40Z","hi":3},{"t":"2006-07-23T19:30Z","hi":0.87},{"t":"2006-07-23T20:30Z","hi":0.87},{"t":"2006-07-23T21:30Z","hi":0.87},{"t":"2006-07-23T23:00Z","hi":0.45},
{"t":"2006-07-24T00:50Z","hi":0.87},{"t":"2006-07-24T02:00Z","hi":0.87},{"t":"2006-07-24T03:40Z","hi":0.45},{"t":"2006-07-24T04:30Z","hi":0.45},{"t":"2006-07-24T05:10Z","hi":0.45},{"t":"2006-07-24T06:10Z","hi":0.45},{"t":"2006-07-24T07:00Z","hi":2},{"t":"2006-07-24T07:50Z","hi":85},{"t":"2006-07-24T08:20Z","lo":12,"hi":50},{"t":"2006-07-24T08:50Z","lo":12,"hi":60},{"t":"2006-07-24T09:20Z","hi":90},{"t":"2006-07-24T09:50Z","lo":12,"hi":100},{"t":"2006-07-24T10:20Z","lo":12,"hi":80},{"t":"2006-07-24T10:50Z","hi":30},{"t":"2006-07-24T11:20Z","lo":20,"hi":100},{"t":"2006-07-24T12:00Z","lo":12,"hi":110},{"t":"2006-07-24T12:30Z","hi":70},{"t":"2006-07-24T13:00Z","lo":12,"hi":90},{"t":"2006-07-24T13:50Z","lo":10,"hi":300},{"t":"2006-07-24T14:30Z","hi":12},{"t":"2006-07-24T15:10Z","hi":3},{"t":"2006-07-24T16:10Z","hi":1},{"t":"2006-07-24T17:20Z","hi":0.87},{"t":"2006-07-24T18:30Z","hi":0.45},{"t":"2006-07-24T20:10Z","hi":1.85},{"t":"2006-07-24T21:00Z","hi":1.85},{"t":"2006-07-24T22:00Z","hi":0.87},{"t":"2006-07-24T23:00Z","hi":0.87},
{"t":"2006-07-25T00:30Z","hi":0.87},{"t":"2006-07-25T01:40Z","hi":0.87},{"t":"2006-07-25T02:50Z","hi":0.87},{"t":"2006-07-25T04:00Z","hi":0.87},{"t":"2006-07-25T05:10Z","hi":0.87},{"t":"2006-07-25T06:20Z","hi":0.87},{"t":"2006-07-25T07:10Z","hi":80},{"t":"2006-07-25T07:40Z","lo":30,"hi":150},{"t":"2006-07-25T08:10Z","lo":30,"hi":190},{"t":"2006-07-25T08:40Z","hi":220},{"t":"2006-07-25T09:10Z","lo":30,"hi":190},{"t":"2006-07-25T09:40Z","lo":30,"hi":150},{"t":"2006-07-25T10:10Z","lo":1,"hi":190},{"t":"2006-07-25T10:40Z","lo":30,"hi":170},{"t":"2006-07-25T11:10Z","lo":1,"hi":250},{"t":"2006-07-25T11:40Z","lo":30,"hi":190},{"t":"2006-07-25T12:10Z","lo":30,"hi":160},{"t":"2006-07-25T12:40Z","hi":190},{"t":"2006-07-25T13:10Z","lo":30,"hi":180},{"t":"2006-07-25T13:40Z","lo":30,"hi":235},{"t":"2006-07-25T14:10Z","lo":30,"hi":150},{"t":"2006-07-25T14:40Z","hi":100},{"t":"2006-07-25T15:20Z","lo":20,"hi":135},{"t":"2006-07-25T16:00Z","hi":30},{"t":"2006-07-25T16:40Z","hi":5},{"t":"2006-07-25T18:10Z","hi":20},{"t":"2006-07-25T19:20Z","hi":0.87},{"t":"2006-07-25T20:50Z","hi":0.87},{"t":"2006-07-25T22:00Z","hi":0.45},{"t":"2006-07-25T23:10Z","hi":0.87},
{"t":"2006-07-26T00:20Z","hi":0.87},{"t":"2006-07-26T01:30Z","hi":0.87},{"t":"2006-07-26T02:40Z","hi":0.45},{"t":"2006-07-26T03:50Z","hi":0.87},{"t":"2006-07-26T05:00Z","hi":0.87},{"t":"2006-07-26T06:20Z","hi":0.87},{"t":"2006-07-26T07:40Z","hi":170},{"t":"2006-07-26T08:10Z","lo":1.5,"hi":150},{"t":"2006-07-26T08:40Z","lo":5,"hi":170},{"t":"2006-07-26T09:10Z","hi":220},{"t":"2006-07-26T09:40Z","lo":1.5,"hi":160},{"t":"2006-07-26T10:10Z","lo":3,"hi":120},{"t":"2006-07-26T10:40Z","hi":100},{"t":"2006-07-26T11:10Z","lo":1.5,"hi":90},{"t":"2006-07-26T11:40Z","lo":2,"hi":60},{"t":"2006-07-26T12:20Z","hi":40},{"t":"2006-07-26T13:20Z","hi":30},{"t":"2006-07-26T14:00Z","lo":2,"hi":20},{"t":"2006-07-26T14:50Z","hi":70},{"t":"2006-07-26T16:00Z","hi":2.2},{"t":"2006-07-26T17:20Z","hi":0.87},{"t":"2006-07-26T18:40Z","hi":0.87},{"t":"2006-07-26T19:50Z","hi":0.87},{"t":"2006-07-26T21:00Z","hi":0.45},{"t":"2006-07-26T22:10Z","hi":0.87},{"t":"2006-07-26T23:20Z","hi":0.87},
{"t":"2006-07-27T00:30Z","hi":0.87},{"t":"2006-07-27T01:40Z","hi":0.87},{"t":"2006-07-27T02:50Z","hi":0.87},{"t":"2006-07-27T04:00Z","hi":0.45},{"t":"2006-07-27T05:10Z","hi":0.87},{"t":"2006-07-27T06:00Z","hi":10},{"t":"2006-07-27T06:40Z","hi":60},{"t":"2006-07-27T07:10Z","lo":15,"hi":140},{"t":"2006-07-27T07:40Z","lo":15,"hi":100},{"t":"2006-07-27T08:10Z","hi":130},{"t":"2006-07-27T08:40Z","lo":15,"hi":230},{"t":"2006-07-27T09:10Z","lo":15,"hi":120},{"t":"2006-07-27T09:40Z","lo":15,"hi":110},{"t":"2006-07-27T10:10Z","hi":130},{"t":"2006-07-27T10:40Z","lo":15,"hi":100},{"t":"2006-07-27T11:20Z","lo":15,"hi":175},{"t":"2006-07-27T11:50Z","hi":120},{"t":"2006-07-27T12:20Z","lo":15,"hi":100},{"t":"2006-07-27T12:50Z","lo":10,"hi":170},{"t":"2006-07-27T13:20Z","lo":15,"hi":140},{"t":"2006-07-27T13:50Z","hi":90},{"t":"2006-07-27T14:30Z","lo":15,"hi":60},{"t":"2006-07-27T15:20Z","hi":40},{"t":"2006-07-27T16:00Z","hi":3},{"t":"2006-07-27T16:50Z","hi":4},{"t":"2006-07-27T18:00Z","hi":0.87},{"t":"2006-07-27T19:20Z","hi":1.85},{"t":"2006-07-27T20:30Z","hi":0.87},{"t":"2006-07-27T21:40Z","hi":0.87},{"t":"2006-07-27T22:50Z","hi":0.3},
{"t":"2006-07-28T00:10Z","hi":0.87},{"t":"2006-07-28T01:20Z","hi":0.87},{"t":"2006-07-28T02:30Z","hi":0.45},{"t":"2006-07-28T03:40Z","hi":0.87},{"t":"2006-07-28T04:50Z","hi":0.87},{"t":"2006-07-28T05:50Z","hi":0.6},{"t":"2006-07-28T06:40Z","hi":5},{"t":"2006-07-28T07:20Z","hi":40},{"t":"2006-07-28T08:00Z","lo":5,"hi":400},{"t":"2006-07-28T08:30Z","lo":5,"hi":75},{"t":"2006-07-28T09:00Z","hi":60},{"t":"2006-07-28T09:30Z","lo":5,"hi":75},{"t":"2006-07-28T10:00Z","lo":5,"hi":75},{"t":"2006-07-28T10:30Z","hi":70},{"t":"2006-07-28T11:00Z","lo":5,"hi":60},{"t":"2006-07-28T11:30Z","lo":2.5,"hi":70},{"t":"2006-07-28T12:00Z","hi":50},{"t":"2006-07-28T12:30Z","lo":5,"hi":75},{"t":"2006-07-28T13:00Z","lo":5,"hi":80},{"t":"2006-07-28T13:30Z","hi":80},{"t":"2006-07-28T14:00Z","lo":5,"hi":40},{"t":"2006-07-28T14:30Z","lo":5,"hi":30},{"t":"2006-07-28T15:00Z","hi":20},{"t":"2006-07-28T15:40Z","lo":0.5,"hi":10},{"t":"2006-07-28T16:20Z","hi":5},{"t":"2006-07-28T17:20Z","hi":0.87},{"t":"2006-07-28T19:00Z","hi":1.85},{"t":"2006-07-28T20:20Z","hi":1.85},{"t":"2006-07-28T21:50Z","hi":0.3}
]
},
"data": {"name": "s"},
"encoding": {
  "x": {"field": "t", "type": "temporal",
    "scale": {"type": "utc", "domain": [{"year": 2006, "month": 7, "date": 1, "hours": 0, "minutes": 2, "seconds": 50, "utc": true}, {"year": 2006, "month": 7, "date": 28, "hours": 23, "minutes": 59, "seconds": 59, "utc": true}]},
    "axis": {"title": null,
      "values": [
        {"year": 2006, "month": 7, "date": 1, "hours": 0, "minutes": 2, "seconds": 50, "utc": true},
        {"year": 2006, "month": 7, "date": 8, "hours": 0, "minutes": 2, "seconds": 7, "utc": true},
        {"year": 2006, "month": 7, "date": 15, "hours": 0, "minutes": 1, "seconds": 24, "utc": true},
        {"year": 2006, "month": 7, "date": 22, "hours": 0, "minutes": 0, "seconds": 42, "utc": true},
        {"year": 2006, "month": 7, "date": 28, "hours": 23, "minutes": 59, "seconds": 59, "utc": true}
      ],
      "labelExpr": "[utcFormat(datum.value, '%H:%M:%S'), utcFormat(datum.value, '%a %b %-d %Y')]",
      "grid": true, "gridColor": "#b4b4b4", "gridWidth": 1,
      "gridOpacity": {"condition": {"test": "+datum.value < 1151712200000 || +datum.value > 1154131100000", "value": 0}, "value": 1},
      "domain": false, "ticks": false, "tickSize": 0,
      "labelPadding": 11, "labelBaseline": "alphabetic", "labelAlign": "center", "labelLineHeight": 17,
      "labelFont": "Liberation Serif", "labelFontSize": 15, "labelColor": "#000000",
      "labelOverlap": false, "labelFlush": false, "labelBound": false}
  },
  "y": {"field": "hi", "type": "quantitative",
    "scale": {"type": "log", "domain": [0.1, 100000], "nice": false},
    "axis": {"title": null,
      "values": [1,2,3,4,5,6,7,8,9,10,20,30,40,50,60,70,80,90,100,200,300,400,500,600,700,800,900,1000,2000,3000,4000,5000,6000,7000,8000,9000,10000,20000,30000,40000,50000,60000,70000,80000,90000,100000],
      "labelExpr": "indexof([1,10,100,1000,10000,100000], datum.value) >= 0 ? format(datum.value, 'd') : ''",
      "grid": true,
      "gridColor": {"condition": {"test": "indexof([1,10,100,1000,10000,100000], datum.value) >= 0", "value": "#000000"}, "value": "#333333"},
      "gridDash": {"condition": {"test": "indexof([1,10,100,1000,10000,100000], datum.value) >= 0", "value": []}, "value": [7, 4]},
      "gridOpacity": {"condition": {"test": "datum.value >= 100000", "value": 0}, "value": 1},
      "gridWidth": 1,
      "domain": false, "ticks": false, "tickSize": 0,
      "labelPadding": 149, "labelAlign": "left", "labelBaseline": "alphabetic", "labelOffset": -2,
      "labelFont": "Liberation Serif", "labelFontSize": 15, "labelColor": "#000000",
      "labelOverlap": false, "labelFlush": false, "labelBound": false}
  }
},
"layer": [
  {"transform": [{"filter": "!isValid(datum.lo)"}],
   "mark": {"type": "rule", "color": "#000000", "strokeWidth": 1.3, "clip": true},
   "encoding": {"y2": {"datum": 0.1}}},
  {"transform": [{"filter": "isValid(datum.lo)"}],
   "mark": {"type": "rule", "color": "#000000", "strokeWidth": 1.3, "clip": true},
   "encoding": {"y2": {"field": "lo"}}},
  {"data": {"name": "lab"},
   "mark": {"type": "text", "align": "left", "baseline": "alphabetic", "dx": 10, "dy": -2, "font": "Liberation Serif", "fontSize": 15, "color": "#000000"},
   "encoding": {"text": {"field": "label"}}}
]
}
